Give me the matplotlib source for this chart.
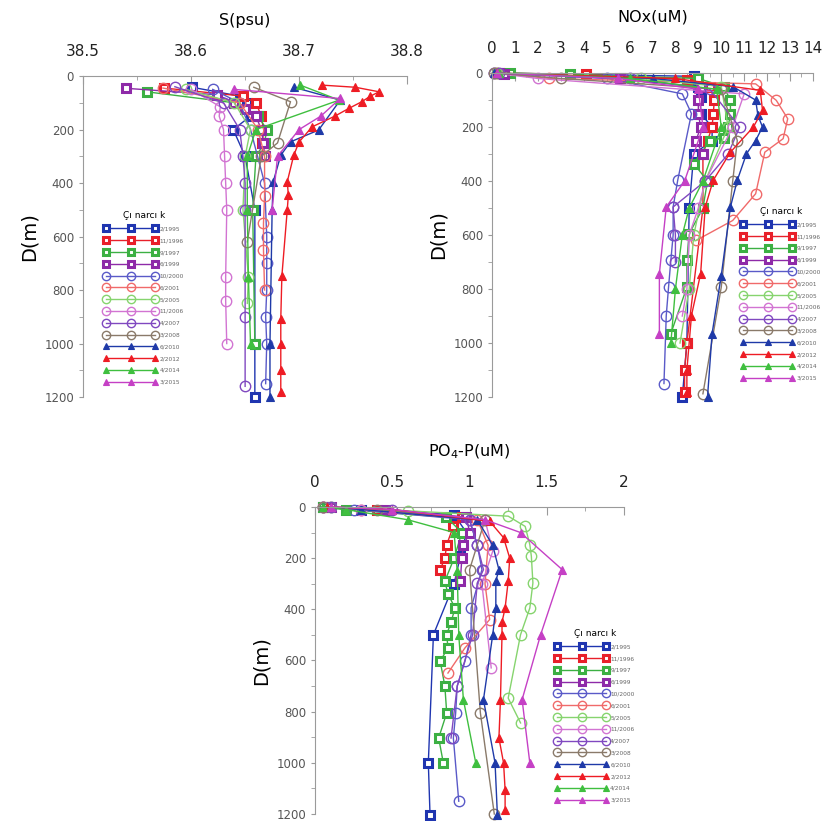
import matplotlib
matplotlib.use("Agg")
import matplotlib.pyplot as plt

# --- series definitions ---------------------------------------------------
labels = ["2/1995", "11/1996", "9/1997", "6/1999", "10/2000", "6/2001", "5/2005",
          "11/2006", "4/2007", "3/2008", "6/2010", "2/2012", "4/2014", "3/2015"]
colors = ["#1f35b0", "#e8202a", "#3cb043", "#8e2aa8", "#5a5ac8", "#f06a6a", "#86d46e",
          "#d274d2", "#8048c0", "#8a7a6a", "#1f3aa8", "#ee1c24", "#3fbf3f", "#c540c5"]
markers = ["s"] * 4 + ["o"] * 6 + ["^"] * 4

# --- salinity, S(psu) -----------------------------------------------------
sal_depth = [
    [42, 75, 100, 150, 200, 300, 500, 1000, 1200],
    [45, 75, 100, 150, 200, 250, 300],
    [59, 100, 150, 200, 250, 300, 500, 1000],
    [46, 70, 100, 125, 150, 200, 250, 300],
    [50, 100, 200, 400, 600, 700, 800, 900, 1000, 1150],
    [45, 100, 200, 300, 450, 550, 650, 800],
    [50, 100, 200, 300, 500, 750, 850],
    [50, 115, 150, 200, 300, 400, 500, 750, 840, 1000],
    [40, 100, 200, 300, 400, 500, 900, 1160],
    [42, 96, 250, 300, 620],
    [42, 90, 202, 246, 296, 395, 500, 1000, 1200],
    [34, 42, 59, 75, 96, 121, 150, 190, 246, 296, 395, 445, 500, 748, 907, 1000, 1100, 1181],
    [34, 90, 200, 300, 500, 750, 1000],
    [50, 84, 150, 200, 300, 500],
]
sal_value = [
    [38.601, 38.645, 38.652, 38.655, 38.639, 38.650, 38.659, 38.659, 38.659],
    [38.575, 38.648, 38.660, 38.665, 38.667, 38.666, 38.666],
    [38.559, 38.640, 38.662, 38.670, 38.668, 38.660, 38.657, 38.659],
    [38.540, 38.624, 38.640, 38.650, 38.660, 38.665, 38.667, 38.668],
    [38.620, 38.645, 38.655, 38.668, 38.670, 38.670, 38.670, 38.669, 38.670, 38.669],
    [38.574, 38.645, 38.662, 38.668, 38.668, 38.667, 38.667, 38.668],
    [38.595, 38.640, 38.655, 38.650, 38.648, 38.653, 38.652],
    [38.600, 38.627, 38.626, 38.630, 38.631, 38.632, 38.633, 38.632, 38.632, 38.633],
    [38.585, 38.630, 38.645, 38.648, 38.650, 38.650, 38.650, 38.650],
    [38.658, 38.692, 38.680, 38.665, 38.652],
    [38.695, 38.738, 38.718, 38.692, 38.683, 38.676, 38.675, 38.673, 38.673],
    [38.721, 38.752, 38.774, 38.766, 38.758, 38.746, 38.733, 38.712, 38.700, 38.695,
     38.689, 38.690, 38.689, 38.684, 38.683, 38.683, 38.683, 38.683],
    [38.701, 38.737, 38.660, 38.652, 38.652, 38.653, 38.655],
    [38.640, 38.738, 38.720, 38.700, 38.680, 38.675],
]

# --- nitrate + nitrite, NOx(uM) ------------------------------------------
nox_depth = [
    [0, 12, 50, 89, 150, 200, 250, 300, 500, 1000, 1200],
    [0, 5, 25, 50, 100, 150, 200, 250, 300, 500, 1000, 1100, 1180],
    [0, 5, 20, 50, 100, 150, 200, 240, 250, 335, 400, 500, 595, 694, 793, 965],
    [0, 2, 20, 52, 100, 150, 200, 250, 300],
    [0, 20, 77, 150, 397, 496, 600, 694, 793, 898, 1150],
    [0, 20, 40, 101, 169, 243, 293, 447, 546, 620],
    [0, 20, 50, 200, 400, 600, 800, 1000],
    [0, 20, 77, 200, 400, 500, 600, 800, 900],
    [0, 20, 60, 200, 300, 400, 496, 600, 700],
    [0, 20, 60, 250, 400, 793, 1188],
    [0, 20, 50, 100, 157, 200, 250, 299, 397, 496, 750, 965, 1200],
    [0, 20, 64, 138, 200, 293, 397, 496, 743, 898, 1100, 1180],
    [0, 20, 60, 200, 400, 500, 600, 800, 1000],
    [0, 20, 60, 200, 400, 496, 743, 965],
]
nox_value = [
    [0.2, 8.8, 9.0, 9.1, 9.1, 9.6, 9.6, 8.8, 8.6, 8.5, 8.3],
    [0.3, 4.1, 8.5, 9.5, 9.7, 9.65, 9.6, 9.4, 9.2, 9.2, 8.5, 8.4, 8.4],
    [0.8, 3.4, 9.0, 10.1, 10.4, 10.4, 10.3, 10.1, 9.5, 8.8, 9.4, 9.2, 8.6, 8.5, 8.5, 7.8],
    [0.3, 0.5, 5.6, 9.1, 9.0, 9.0, 9.1, 8.9, 9.2],
    [0.1, 5.0, 8.3, 8.7, 8.1, 7.9, 7.9, 7.8, 7.7, 7.6, 7.5],
    [0.2, 2.5, 11.5, 12.4, 12.9, 12.7, 11.9, 11.5, 10.5, 8.9],
    [0.2, 6.5, 10.0, 10.3, 9.3, 8.8, 8.6, 8.2],
    [0.1, 2.0, 11.0, 10.5, 9.3, 9.0, 8.6, 8.5, 8.3],
    [0.3, 6.0, 9.5, 10.8, 10.3, 9.3, 7.9, 8.0, 8.0],
    [0.1, 3.0, 10.0, 10.7, 10.5, 10.0, 9.2],
    [0.1, 7.0, 10.5, 11.5, 11.6, 11.8, 11.5, 11.1, 10.7, 10.4, 10.0, 9.6, 9.4],
    [0.2, 8.0, 11.7, 11.8, 11.4, 10.4, 9.65, 9.3, 9.1, 8.7, 8.5, 8.5],
    [0.3, 6.0, 9.8, 10.0, 9.2, 8.6, 8.3, 8.0, 7.8],
    [0.2, 5.5, 9.0, 9.2, 8.4, 7.6, 7.3, 7.3],
]

# --- phosphate, PO4-P(uM) -------------------------------------------------
po4_depth = [
    [0, 10, 30, 100, 193, 300, 499, 1000, 1203],
    [0, 10, 40, 76, 147, 200, 245],
    [0, 10, 40, 100, 200, 290, 340, 395, 450, 499, 550, 603, 700, 805, 903, 1000],
    [0, 10, 40, 100, 150, 200, 290],
    [0, 10, 50, 150, 245, 395, 499, 603, 700, 805, 903, 1150],
    [0, 10, 50, 150, 300, 440, 551, 649],
    [0, 15, 36, 76, 147, 193, 297, 395, 499, 747, 844],
    [0, 10, 50, 173, 300, 629],
    [0, 10, 50, 150, 245, 297, 499, 700, 903],
    [0, 10, 50, 245, 805, 1200],
    [0, 10, 50, 150, 245, 290, 395, 499, 753, 1000, 1203],
    [0, 10, 56, 120, 200, 290, 395, 450, 499, 753, 903, 1000, 1105, 1183],
    [0, 10, 50, 100, 250, 500, 753, 1000],
    [0, 10, 50, 100, 245, 499, 753, 1000],
]
po4_value = [
    [0.05, 0.30, 0.90, 0.98, 0.94, 0.90, 0.766, 0.733, 0.744],
    [0.08, 0.40, 0.95, 0.895, 0.852, 0.84, 0.81],
    [0.05, 0.20, 0.85, 0.95, 0.90, 0.84, 0.86, 0.906, 0.88, 0.852, 0.86, 0.81, 0.84, 0.852, 0.80, 0.83],
    [0.10, 0.45, 0.98, 1.00, 0.96, 0.95, 0.94],
    [0.05, 0.25, 1.00, 1.05, 1.08, 1.01, 1.01, 0.97, 0.92, 0.91, 0.895, 0.93],
    [0.05, 0.30, 1.05, 1.12, 1.10, 1.13, 0.97, 0.86],
    [0.10, 0.60, 1.25, 1.36, 1.39, 1.40, 1.41, 1.39, 1.33, 1.25, 1.33],
    [0.05, 0.30, 1.10, 1.15, 1.08, 1.14],
    [0.10, 0.50, 1.00, 1.05, 1.09, 1.05, 1.02, 0.92, 0.88],
    [0.05, 0.40, 1.10, 1.00, 1.07, 1.16],
    [0.05, 0.30, 1.05, 1.15, 1.19, 1.17, 1.17, 1.15, 1.09, 1.165, 1.18],
    [0.08, 0.50, 1.13, 1.22, 1.26, 1.25, 1.23, 1.21, 1.21, 1.20, 1.19, 1.22, 1.23, 1.23],
    [0.05, 0.20, 0.60, 0.90, 0.92, 0.93, 0.96, 1.04],
    [0.10, 0.50, 1.10, 1.33, 1.60, 1.46, 1.34, 1.39],
]

legend_title = "Çı narcı k"


def style(i):
    m = markers[i]
    if m == "s":
        return dict(marker="s", ms=6, mfc="white", mec=colors[i], mew=2.2)
    if m == "o":
        return dict(marker="o", ms=7.5, mfc="none", mec=colors[i], mew=1.0)
    return dict(marker="^", ms=5.5, mfc=colors[i], mec=colors[i], mew=0.8)


def profile_panel(ax, depths, values, xlim, xticks, minor, title, leg_anchor):
    for i in range(len(labels)):
        ax.plot(values[i], depths[i], color=colors[i], lw=1.0, label=labels[i],
                clip_on=False, **style(i))
    ax.set_xlim(*xlim)
    ax.set_ylim(1200, 0)
    ax.set_xticks(xticks)
    ax.set_xticks(minor, minor=True)
    ax.set_yticks(range(0, 1201, 200))
    ax.set_yticks(range(100, 1200, 200), minor=True)
    ax.xaxis.tick_top()
    for side in ("right", "bottom"):
        ax.spines[side].set_visible(False)
    for side in ("top", "left"):
        ax.spines[side].set_color("#9a9a9a")
    ax.tick_params(axis="x", which="both", direction="in", colors="#9a9a9a",
                   labelcolor="#222222", labelsize=11, pad=12)
    ax.tick_params(axis="x", which="major", length=6)
    ax.tick_params(axis="x", which="minor", length=3)
    ax.tick_params(axis="y", which="both", direction="out", colors="#9a9a9a",
                   labelcolor="#555555", labelsize=8.5, length=3)
    ax.set_title(title, fontsize=11.5, pad=14)
    ax.set_ylabel("D(m)", fontsize=14, labelpad=4)
    leg = ax.legend(title=legend_title, fontsize=4.2, title_fontsize=6.5, numpoints=3,
                    handlelength=9, labelspacing=1.15, frameon=False, borderpad=0,
                    handletextpad=0.4, markerscale=0.8, loc="upper left",
                    bbox_to_anchor=leg_anchor, bbox_transform=ax.figure.transFigure)
    for t in leg.get_texts():
        t.set_color("#666666")
    return leg


fig = plt.figure(figsize=(8.27, 8.21), dpi=100)

ax_s = fig.add_axes([0.1004, 0.5164, 0.392, 0.391])
profile_panel(ax_s, sal_depth, sal_value, (38.5, 38.8), [38.5, 38.6, 38.7, 38.8],
              [38.55, 38.65, 38.75], "S(psu)", (0.123, 0.747))
ax_s.set_xticklabels(["38.5", "38.6", "38.7", "38.8"])

ax_n = fig.add_axes([0.595, 0.5164, 0.388, 0.3946])
profile_panel(ax_n, nox_depth, nox_value, (0, 14), list(range(0, 15)),
              [k + 0.5 for k in range(14)], "NOx(uM)", (0.893, 0.752))

ax_p = fig.add_axes([0.381, 0.0085, 0.3736, 0.374])
profile_panel(ax_p, po4_depth, po4_value, (0, 2), [0, 0.5, 1, 1.5, 2],
              [0.25, 0.75, 1.25, 1.75], r"PO$_4$-P(uM)", (0.668, 0.238))
ax_p.set_xticklabels(["0", "0.5", "1", "1.5", "2"])

fig.savefig("out.png", dpi=100)
